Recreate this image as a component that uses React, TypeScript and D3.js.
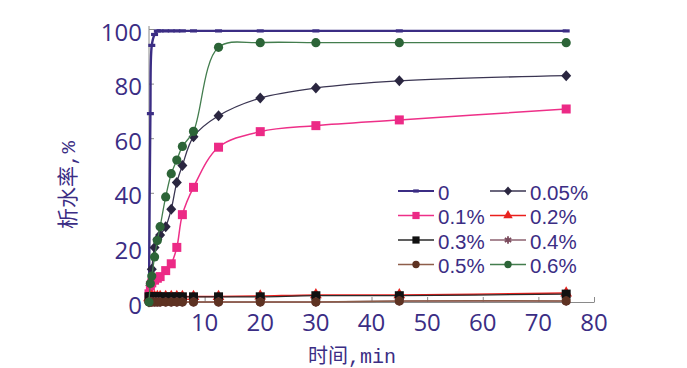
import { useEffect, useRef } from 'react'
import * as d3 from 'd3'

// sampling times, min
const times = [0, 0.25, 0.5, 1, 1.5, 2, 3, 4, 5, 6, 8, 12.5, 20, 30, 45, 75]

// water separation rate, %
const dose0 = [0, 69, 94, 98, 99.3, 99.3, 99.3, 99.3, 99.3, 99.3, 99.3, 99.3, 99.3, 99.3, 99.3, 99.3]
const dose005 = [0, 6, 12, 20, 23, 24.5, 27.6, 34, 43.8, 50, 60.5, 68.2, 74.7, 78.4, 81, 82.9]
const dose01 = [3, 6, 7, 8, 8.7, 9.3, 11.5, 14, 20, 32, 42, 56.7, 62.4, 64.6, 66.7, 70.7]
const dose02 = [1.5, 1.8, 2, 2, 2, 2, 2, 2, 2, 2, 2, 2, 2.2, 2.6, 2.6, 3.3]
const dose03 = [1.9, 1.9, 1.9, 1.9, 1.9, 1.9, 1.9, 1.9, 1.9, 1.9, 1.9, 1.9, 1.9, 2.3, 2.3, 2.9]
const dose04 = [0, 0, 0, 0, 0, 0, 0, 0, 0, 0, 0, 0, 0, 0, 0.3, 0.3]
const dose05 = [0, 0, 0, 0, 0, 0, 0, 0, 0, 0, 0, 0, 0, 0, 0.4, 0.4]
const dose06 = [0, 6.8, 9.5, 16.5, 22.5, 27.6, 38.5, 47, 52, 57, 62.5, 93.3, 95, 95, 95, 95]

const seriesNames = ['0', '0.05%', '0.1%', '0.2%', '0.3%', '0.4%', '0.5%', '0.6%']
const xTicks = [10, 20, 30, 40, 50, 60, 70, 80]
const yTicks = [0, 20, 40, 60, 80, 100]

const purple = '#3b2d84'

function App() {
  const svgRef = useRef<SVGSVGElement>(null)
  const width = 687,
        height = 368

  useEffect(() => {
    const svg = d3.select(svgRef.current)
    svg.selectAll('*').remove()

    const x = d3.scaleLinear([0, 80], [149, 594])
    const y = d3.scaleLinear([0, 100], [302, 29])

    const series = [
      { name: seriesNames[0], values: dose0, line: purple, fill: purple, marker: 'dash', lw: 2.4 },
      { name: seriesNames[1], values: dose005, line: '#3a3552', fill: '#2a2640', marker: 'diamond', lw: 1.3 },
      { name: seriesNames[2], values: dose01, line: '#ee2f88', fill: '#ec2a86', marker: 'square', lw: 1.5 },
      { name: seriesNames[3], values: dose02, line: '#ea1f1c', fill: '#e8231f', marker: 'triangle', lw: 1.5 },
      { name: seriesNames[4], values: dose03, line: '#2a2a2a', fill: '#111', marker: 'square', lw: 1.3 },
      { name: seriesNames[5], values: dose04, line: '#8d6270', fill: '#7a4a5c', marker: 'star', lw: 1.3 },
      { name: seriesNames[6], values: dose05, line: '#8e5e4a', fill: '#5e3222', marker: 'circle', lw: 1.5 },
      { name: seriesNames[7], values: dose06, line: '#437d4e', fill: '#2c6437', marker: 'circle', lw: 1.3 },
    ]

    const drawMarker = (g: any, type: string, cx: number, cy: number, color: string, s = 1) => {
      if (type === 'dash') {
        g.append('rect').attr('x', cx - 3.5 * s).attr('y', cy - 1.6).attr('width', 7 * s).attr('height', 3.2)
          .attr('fill', color)
      } else if (type === 'diamond') {
        g.append('path').attr('d', `M${cx},${cy - 5.5 * s}L${cx + 5 * s},${cy}L${cx},${cy + 5.5 * s}L${cx - 5 * s},${cy}Z`)
          .attr('fill', color)
      } else if (type === 'square') {
        g.append('rect').attr('x', cx - 4.5 * s).attr('y', cy - 4.5 * s).attr('width', 9 * s).attr('height', 9 * s)
          .attr('fill', color)
      } else if (type === 'triangle') {
        g.append('path').attr('d', d3.symbol(d3.symbolTriangle, 60 * s * s)()!)
          .attr('transform', `translate(${cx},${cy})`).attr('fill', color)
      } else if (type === 'star') {
        g.append('path').attr('d', d3.symbol(d3.symbolAsterisk, 60 * s * s)()!)
          .attr('transform', `translate(${cx},${cy})`).attr('fill', 'none')
          .attr('stroke', color).attr('stroke-width', 1.8)
      } else {
        g.append('circle').attr('cx', cx).attr('cy', cy).attr('r', 4.6 * s).attr('fill', color)
      }
    }

    // axes
    svg.append('line')
      .attr('x1', x(0)).attr('x2', x(0)).attr('y1', y(0)).attr('y2', y(100) - 3)
      .attr('stroke', '#8a8a8a').attr('stroke-width', 1)
    const yAxis = svg.append('g')
      .attr('transform', `translate(${x(0)},0)`)
      .call(d3.axisRight(y).tickValues(yTicks).tickSize(5).tickFormat(() => ''))
    yAxis.select('.domain').remove()
    yAxis.selectAll('line').attr('stroke', '#8a8a8a')

    const xAxis = svg.append('g')
      .attr('transform', `translate(0,${y(0)})`)
      .call(d3.axisTop(x).tickValues(xTicks).tickSize(5).tickSizeOuter(0).tickFormat(() => ''))
    xAxis.select('.domain').attr('stroke', '#8a8a8a')
    xAxis.selectAll('line').attr('stroke', '#8a8a8a')

    svg.append('g')
      .selectAll('text')
      .data(yTicks)
      .join('text')
      .attr('x', 142)
      .attr('y', d => y(d) + 2)
      .attr('text-anchor', 'end')
      .attr('dominant-baseline', 'central')
      .attr('font-family', '"Open Sans", sans-serif')
      .attr('font-size', 24)
      .attr('fill', purple)
      .text(d => d)

    svg.append('g')
      .selectAll('text')
      .data(xTicks)
      .join('text')
      .attr('x', d => x(d))
      .attr('y', 331)
      .attr('text-anchor', 'middle')
      .attr('font-family', '"Open Sans", sans-serif')
      .attr('font-size', 24)
      .attr('fill', purple)
      .text(d => d)

    // axis titles
    const xt = svg.append('text')
      .attr('x', 352).attr('y', 363)
      .attr('text-anchor', 'middle')
      .attr('fill', purple)
      .attr('font-size', 20)
    xt.append('tspan').attr('font-family', '"Noto Sans CJK SC"').text('时间')
    xt.append('tspan').attr('font-family', '"Liberation Mono", monospace').text(',min')

    const yt = svg.append('text')
      .attr('transform', 'translate(75,185) rotate(-90)')
      .attr('text-anchor', 'middle')
      .attr('fill', purple)
      .attr('font-size', 21)
    yt.append('tspan').attr('font-family', '"Noto Sans CJK SC"').text('析水率')
    yt.append('tspan').attr('font-family', '"Liberation Mono", monospace').text(',%')

    // series
    const lineGen = d3.line<number>()
      .x((_, i) => x(times[i]))
      .y(d => y(d))
      .curve(d3.curveCatmullRom.alpha(0.5))

    series.forEach(s => {
      const g = svg.append('g')
      g.append('path')
        .datum(s.values)
        .attr('d', lineGen)
        .attr('fill', 'none')
        .attr('stroke', s.line)
        .attr('stroke-width', s.lw)
      s.values.forEach((v, i) => drawMarker(g, s.marker, x(times[i]), y(v), s.fill))
    })

    // legend
    const legend = svg.append('g')
    const colX = [398, 490]
    const rowY = [191, 215.5, 240, 264.5]
    series.forEach((s, i) => {
      const lx = colX[i % 2],
            ly = rowY[Math.floor(i / 2)]
      legend.append('line')
        .attr('x1', lx).attr('x2', lx + 36).attr('y1', ly).attr('y2', ly)
        .attr('stroke', s.line).attr('stroke-width', i === 0 ? 1.8 : 1.5)
      drawMarker(legend, s.marker, lx + 18, ly, s.fill, 0.8)
      legend.append('text')
        .attr('x', lx + 40).attr('y', ly + 1)
        .attr('dominant-baseline', 'central')
        .attr('font-family', '"Liberation Sans", sans-serif')
        .attr('font-size', 20.5)
        .attr('fill', purple)
        .text(s.name)
    })
  }, [])

  return (
    <svg ref={svgRef} width={width} height={height} viewBox={`0 0 ${width} ${height}`}
      style={{ position: 'absolute', left: 0, top: 0, background: '#fff' }}>
    </svg>
  )
}

export default App
